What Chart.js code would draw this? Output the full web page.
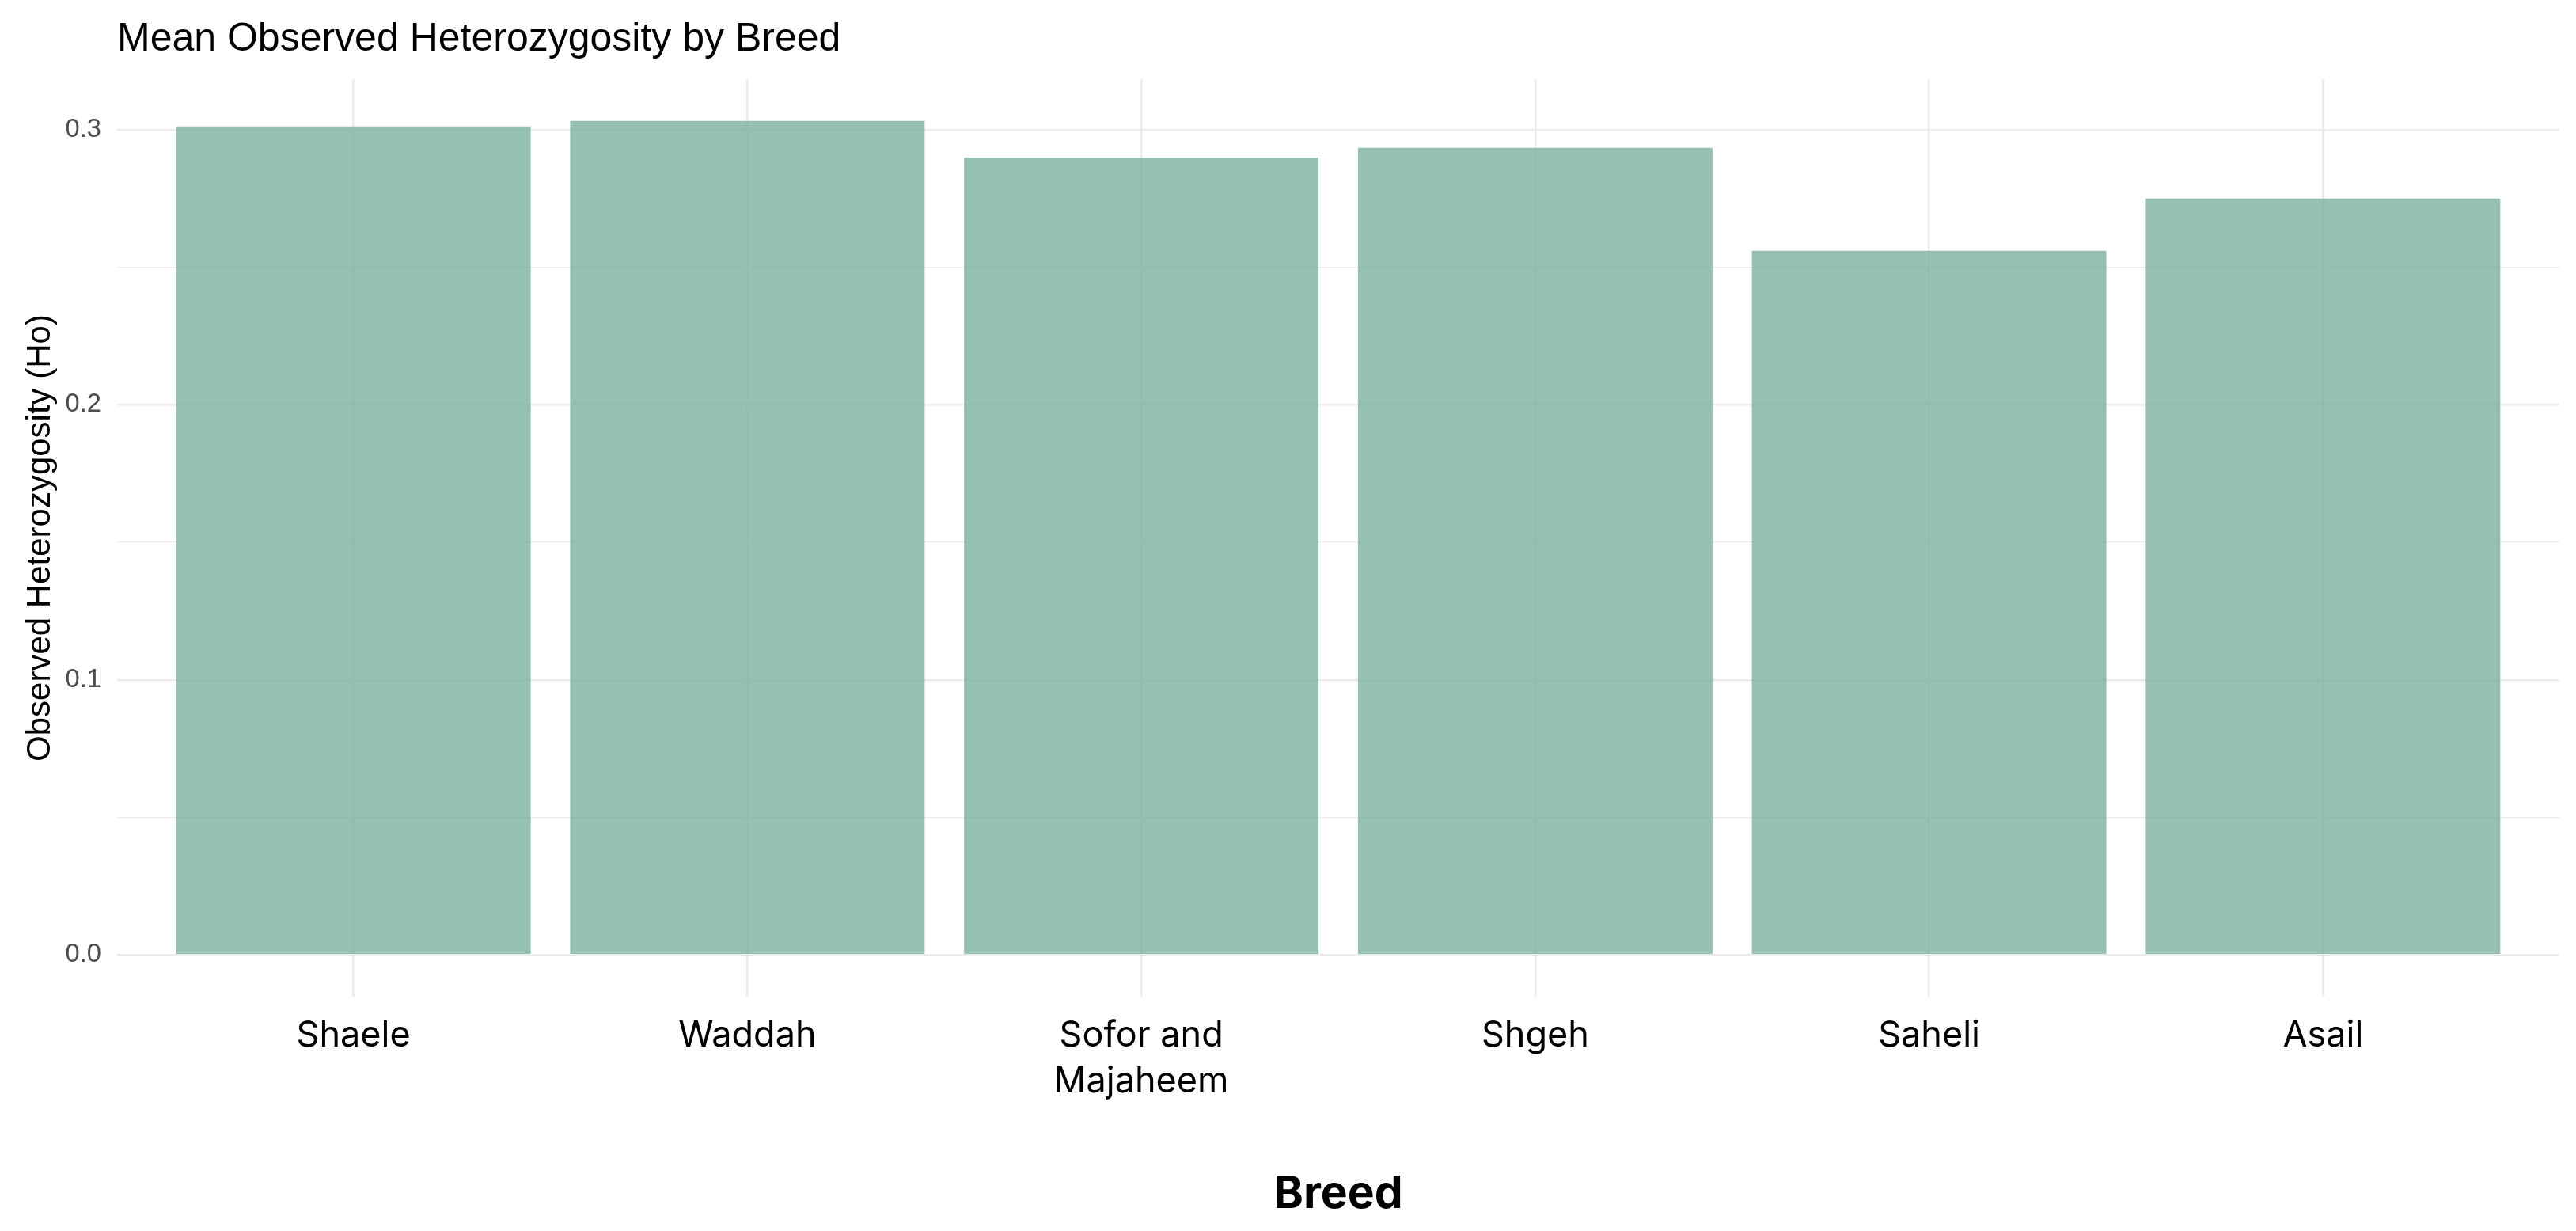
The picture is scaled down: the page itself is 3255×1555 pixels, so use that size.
<!DOCTYPE html>
<html>
<head>
<meta charset="utf-8">
<title>Mean Observed Heterozygosity by Breed</title>
<script src="https://cdn.jsdelivr.net/npm/chart.js@4.4.1/dist/chart.umd.min.js"></script>
<style>
  html, body { margin: 0; padding: 0; background: #fff; }
  canvas { display: block; }
</style>
</head>
<body>
<canvas id="hoChart" width="3255" height="1555"></canvas>
<script>
// values
const categories = ["Shaele", "Waddah", "Sofor and Majaheem", "Shgeh", "Saheli", "Asail"];
const hoValues = [0.3012, 0.3032, 0.2899, 0.2934, 0.2560, 0.2750];
const majorTicks = [0, 0.1, 0.2, 0.3];
const minorTicks = [0.05, 0.15, 0.25];

// ggplot-ish 5% expansion of the y range, 0.6 unit padding on the discrete x
const yPad = Math.max(...hoValues) * 0.05;

function wrapLabel(text, width) {
  const words = text.split(" ");
  const lines = [];
  let line = "";
  words.forEach(function (w) {
    if (line && (line + " " + w).length > width) {
      lines.push(line);
      line = w;
    } else {
      line = line ? line + " " + w : w;
    }
  });
  lines.push(line);
  return lines;
}

function isMajor(v) {
  return majorTicks.some(function (m) { return Math.abs(m - v) < 1e-9; });
}

document.addEventListener("DOMContentLoaded", function () {
  const ctx = document.getElementById("hoChart");
  new Chart(ctx, {
    type: "bar",
    data: {
      datasets: [{
        data: hoValues.map(function (v, i) { return { x: i, y: v }; }),
        backgroundColor: "rgba(124,176,161,0.8)",
        borderWidth: 0,
        categoryPercentage: 1,
        barPercentage: 0.9
      }]
    },
    options: {
      responsive: false,
      devicePixelRatio: 1,
      animation: false,
      layout: { padding: { left: 0, right: 21, top: 0, bottom: 0 } },
      plugins: {
        legend: { display: false },
        tooltip: { enabled: false },
        title: {
          display: true,
          text: "Mean Observed Heterozygosity by Breed",
          align: "start",
          fullSize: false,
          color: "#000",
          font: { family: "'Liberation Sans', Arial, sans-serif", size: 50, weight: "normal" },
          padding: { top: 20.6, bottom: 19.4 }
        }
      },
      scales: {
        x: {
          type: "linear",
          min: -0.6,
          max: categories.length - 0.4,
          offset: false,
          afterBuildTicks: function (scale) {
            scale.ticks = categories.map(function (c, i) { return { value: i }; });
          },
          afterFit: function (scale) { scale.height = 296; },
          border: { display: false },
          grid: {
            offset: false,
            drawTicks: false,
            color: "#ebebeb",
            lineWidth: 2.6
          },
          ticks: {
            autoSkip: false,
            maxRotation: 0,
            padding: 20.7,
            color: "#000",
            font: { family: "Inter, 'Noto Sans', sans-serif", size: 45, lineHeight: 1.29 },
            callback: function (value) {
              return wrapLabel(categories[Math.round(value)], 10);
            }
          },
          title: {
            display: true,
            text: "Breed",
            color: "#000",
            font: { family: "Inter, 'Noto Sans', sans-serif", size: 57, weight: "bold" },
            padding: { top: 0, bottom: 11.5 }
          }
        },
        y: {
          min: -yPad,
          max: Math.max(...hoValues) + yPad,
          afterBuildTicks: function (scale) {
            scale.ticks = majorTicks.concat(minorTicks)
              .sort(function (a, b) { return a - b; })
              .map(function (v) { return { value: v }; });
          },
          afterFit: function (scale) { scale.width = 148; },
          border: { display: false },
          grid: {
            drawTicks: false,
            color: "#ebebeb",
            lineWidth: function (c) { return isMajor(c.tick.value) ? 2.6 : 1.3; }
          },
          ticks: {
            padding: 20,
            color: "#4d4d4d",
            font: { family: "'Liberation Sans', Arial, sans-serif", size: 32.7 },
            callback: function (value) {
              return isMajor(value) ? value.toFixed(1) : "";
            }
          },
          title: {
            display: true,
            text: "Observed Heterozygosity (Ho)",
            color: "#000",
            font: { family: "'Liberation Sans', Arial, sans-serif", size: 42, weight: "normal" },
            padding: { top: 25.8, bottom: 0 }
          }
        }
      }
    }
  });
});
</script>
</body>
</html>
